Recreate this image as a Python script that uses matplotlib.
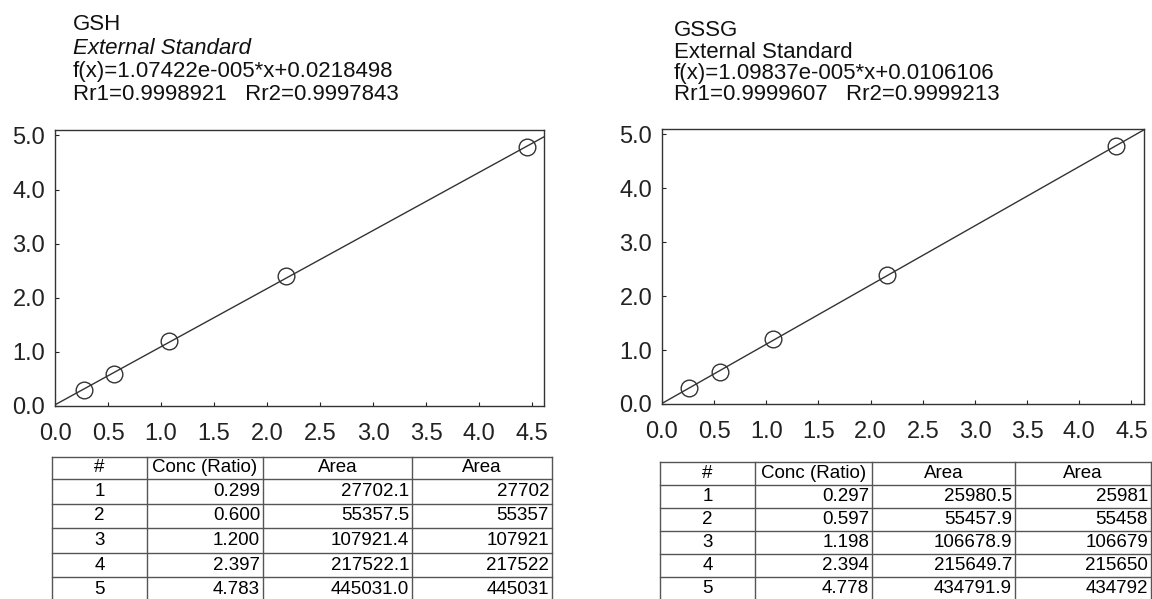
import matplotlib
matplotlib.use("Agg")
import matplotlib.pyplot as plt
import numpy as np

plt.rcParams["font.family"] = ["Liberation Sans", "DejaVu Sans"]

# GSH calibration
gsh_conc = [0.299, 0.600, 1.200, 2.397, 4.783]
gsh_area = [27702.1, 55357.5, 107921.4, 217522.1, 445031.0]
gsh_area_int = [27702, 55357, 107921, 217522, 445031]
gsh_slope = 1.07422e-005
gsh_icpt = 0.0218498
gsh_header = ["GSH", "External Standard",
              "f(x)=1.07422e-005*x+0.0218498",
              "Rr1=0.9998921   Rr2=0.9997843"]

# GSSG calibration
gssg_conc = [0.297, 0.597, 1.198, 2.394, 4.778]
gssg_area = [25980.5, 55457.9, 106678.9, 215649.7, 434791.9]
gssg_area_int = [25981, 55458, 106679, 215650, 434792]
gssg_slope = 1.09837e-005
gssg_icpt = 0.0106106
gssg_header = ["GSSG", "External Standard",
               "f(x)=1.09837e-005*x+0.0106106",
               "Rr1=0.9999607   Rr2=0.9999213"]

col_names = ["#", "Conc (Ratio)", "Area", "Area"]
xticks = [0.0, 0.5, 1.0, 1.5, 2.0, 2.5, 3.0, 3.5, 4.0, 4.5]
yticks = [0.0, 1.0, 2.0, 3.0, 4.0, 5.0]

W, H = 1152, 599
fig = plt.figure(figsize=(W / 100, H / 100), dpi=100)
fig.patch.set_facecolor("white")


def px_rect(x0, y0, x1, y1):
    return [x0 / W, 1 - y1 / H, (x1 - x0) / W, (y1 - y0) / H]


def plot_curve(rect, area, conc, slope, icpt, xmax):
    ax = fig.add_axes(rect)
    x = np.array(area) / 1e5
    ax.plot(x, conc, "o", ms=12, mfc="none", mec="#333333", mew=1.0)
    xs = np.array([0.0, xmax])
    ax.plot(xs, slope * xs * 1e5 + icpt, color="#333333", lw=1.0)
    ax.set_xlim(0, xmax)
    ax.set_ylim(0, 5.1)
    ax.set_xticks(xticks)
    ax.set_yticks(yticks)
    ax.set_xticklabels([f"{t:.1f}" for t in xticks])
    ax.set_yticklabels([f"{t:.1f}" for t in yticks])
    ax.tick_params(direction="in", length=3, width=0.8, labelsize=17,
                   colors="#222222")
    ax.tick_params(axis="x", pad=12)
    ax.tick_params(axis="y", pad=7)
    for s in ax.spines.values():
        s.set_color("#333333")
        s.set_linewidth(1.0)
    return ax


plot_curve(px_rect(55, 130, 544, 406), gsh_area, gsh_conc,
           gsh_slope, gsh_icpt, 4.61)
plot_curve(px_rect(662, 129, 1144, 404), gssg_area, gssg_conc,
           gssg_slope, gssg_icpt, 4.62)

# overlay in pixel coordinates for headers and tables
ov = fig.add_axes([0, 0, 1, 1])
ov.set_xlim(0, W)
ov.set_ylim(H, 0)
ov.axis("off")


def header(x, ys, lines, italic_second):
    for i, (y, t) in enumerate(zip(ys, lines)):
        style = "italic" if (i == 1 and italic_second) else "normal"
        ov.text(x, y, t, fontsize=16, style=style, va="center", ha="left",
                color="#111111")


header(73, [25, 48, 71, 94], gsh_header, True)
header(674, [31, 52, 73, 94], gssg_header, False)


def table(cols, rows, conc, area, area_int):
    for y in rows:
        ov.plot([cols[0], cols[-1]], [y, y], color="#555555", lw=1.0)
    for x in cols:
        ov.plot([x, x], [rows[0], rows[-1]], color="#555555", lw=1.0)
    hy = (rows[0] + rows[1]) / 2
    fs = 13.5
    for j, name in enumerate(col_names):
        cx = (cols[j] + cols[j + 1]) / 2
        ov.text(cx, hy, name, fontsize=fs, ha="center", va="center")
    for i in range(len(conc)):
        yc = (rows[i + 1] + rows[i + 2]) / 2
        ov.text((cols[0] + cols[1]) / 2, yc, str(i + 1), fontsize=fs,
                ha="center", va="center")
        ov.text(cols[2] - 3, yc, f"{conc[i]:.3f}", fontsize=fs,
                ha="right", va="center")
        ov.text(cols[3] - 3, yc, f"{area[i]:.1f}", fontsize=fs,
                ha="right", va="center")
        ov.text(cols[4] - 3, yc, f"{area_int[i]}", fontsize=fs,
                ha="right", va="center")


table([52, 147, 263, 412, 552], [457, 479, 504, 528, 553, 577, 601],
      gsh_conc, gsh_area, gsh_area_int)
table([660, 755, 872, 1015, 1151], [462, 485, 508, 531, 554, 577, 600],
      gssg_conc, gssg_area, gssg_area_int)

fig.savefig("out.png", dpi=100, facecolor="white")
